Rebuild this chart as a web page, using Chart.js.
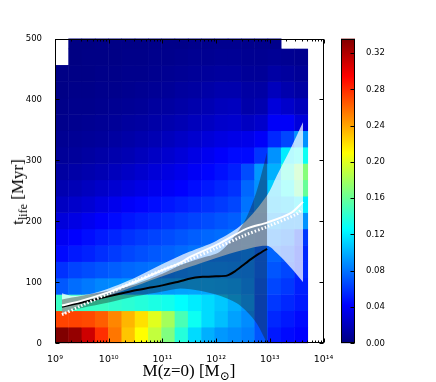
<!DOCTYPE html>
<html>
<head>
<meta charset="utf-8">
<script src="https://cdn.jsdelivr.net/npm/chart.js"></script>
<style>
  body { margin: 0; background: #fff; }
  #wrap { position: relative; width: 436px; height: 382px; }
  canvas { position: absolute; left: 0; top: 0; }
  .ttl { position: absolute; font-family: 'Liberation Serif', 'DejaVu Serif', serif; font-size: 17px; line-height: 20px; color: #000; white-space: nowrap; }
  .ttl sub { font-size: 12px; line-height: 0; vertical-align: -4px; }
  #xtitle { left: 189px; top: 361px; transform: translateX(-50%); }
  #ytitle { left: 18px; top: 192px; transform: translate(-50%, -50%) rotate(-90deg); }
</style>
</head>
<body>
<div id="wrap">
  <canvas id="main" width="436" height="382"></canvas>
  <canvas id="cbar" width="436" height="382"></canvas>
  <div class="ttl" id="xtitle">M(z=0) [M<sub>⊙</sub>]</div>
  <div class="ttl" id="ytitle">t<sub>life</sub> [Myr]</div>
</div>
<script>
// bin edges of the 2D histogram (log10 mass, Myr)
const massEdgesLog = [9.000, 9.248, 9.495, 9.743, 9.990, 10.238, 10.485, 10.733, 10.980, 11.228,
  11.475, 11.723, 11.970, 12.218, 12.465, 12.713, 12.960, 13.208, 13.455, 13.703];
const tlifeEdges = [0, 26.85, 53.7, 80.55, 107.4, 134.25, 161.1, 187.95, 214.8, 241.65,
  268.5, 295.35, 322.2, 349.05, 375.9, 402.75, 429.6, 456.45, 483.3, 510.15];

// fraction per cell, rows from t=0 upwards, 19 mass columns each
const tlifeHist = [
  [0.336,0.329,0.310,0.279,0.255,0.229,0.210,0.190,0.168,0.138,0.114,0.100,0.092,0.088,0.084,0.070,0.050,0.045,0.042],
  [0.272,0.272,0.270,0.263,0.250,0.234,0.220,0.200,0.180,0.150,0.130,0.114,0.105,0.095,0.088,0.070,0.055,0.050,0.045],
  [0.145,0.145,0.145,0.145,0.142,0.140,0.138,0.135,0.132,0.126,0.120,0.114,0.108,0.100,0.092,0.070,0.060,0.055,0.050],
  [0.071,0.078,0.082,0.086,0.088,0.090,0.092,0.093,0.094,0.096,0.097,0.097,0.096,0.094,0.088,0.072,0.065,0.060,0.052],
  [0.058,0.064,0.067,0.070,0.073,0.076,0.078,0.080,0.082,0.084,0.086,0.087,0.087,0.086,0.085,0.075,0.070,0.065,0.055],
  [0.045,0.050,0.053,0.057,0.061,0.065,0.068,0.071,0.074,0.077,0.080,0.082,0.083,0.083,0.085,0.075,0.075,0.070,0.055],
  [0.038,0.042,0.046,0.050,0.054,0.058,0.061,0.064,0.067,0.070,0.073,0.076,0.078,0.080,0.085,0.080,0.085,0.080,0.060],
  [0.030,0.033,0.037,0.041,0.045,0.049,0.052,0.055,0.058,0.061,0.064,0.067,0.070,0.073,0.085,0.085,0.095,0.090,0.090],
  [0.022,0.025,0.028,0.032,0.036,0.040,0.043,0.046,0.049,0.052,0.055,0.058,0.061,0.065,0.080,0.090,0.105,0.110,0.120],
  [0.016,0.018,0.021,0.024,0.027,0.030,0.033,0.036,0.039,0.042,0.046,0.050,0.054,0.058,0.076,0.090,0.110,0.130,0.160],
  [0.011,0.013,0.015,0.017,0.020,0.023,0.026,0.029,0.032,0.035,0.039,0.043,0.047,0.052,0.067,0.092,0.100,0.140,0.170],
  [0.008,0.009,0.011,0.013,0.015,0.017,0.020,0.023,0.026,0.029,0.033,0.037,0.041,0.045,0.045,0.059,0.090,0.120,0.130],
  [0.006,0.007,0.008,0.009,0.011,0.013,0.015,0.017,0.020,0.023,0.026,0.029,0.032,0.034,0.035,0.040,0.055,0.065,0.090],
  [0.004,0.005,0.006,0.007,0.008,0.010,0.011,0.013,0.015,0.017,0.020,0.022,0.025,0.026,0.022,0.025,0.040,0.040,0.030],
  [0.003,0.004,0.004,0.005,0.006,0.007,0.008,0.010,0.011,0.013,0.015,0.017,0.020,0.021,0.014,0.016,0.030,0.025,0.020],
  [0.002,0.003,0.003,0.004,0.004,0.005,0.006,0.007,0.008,0.010,0.011,0.013,0.015,0.015,0.012,0.012,0.020,0.015,0.012],
  [0.002,0.002,0.002,0.003,0.003,0.004,0.004,0.005,0.006,0.007,0.008,0.009,0.010,0.010,0.008,0.008,0.012,0.010,0.008],
  [null, 0.001,0.002,0.002,0.002,0.003,0.003,0.004,0.004,0.005,0.006,0.006,0.007,0.007,0.006,0.006,0.007,0.006,0.005],
  [null, 0.001,0.001,0.002,0.002,0.002,0.002,0.003,0.003,0.003,0.004,0.004,0.005,0.005,0.004,0.004,0.004,null, null]
];

// black median line and its (dark) spread
const medianLogM = [9.13, 9.5, 9.75, 10.0, 10.25, 10.5, 10.75, 11.0, 11.25, 11.5, 11.75, 12.0, 12.2, 12.35, 12.5, 12.65, 12.8, 12.95];
const medianT = [60, 67, 72, 77, 82, 87, 91, 95, 100, 106, 109, 110, 111, 118, 128, 138, 147, 155];
const darkBandLogM = [9.13, 9.5, 10.0, 10.5, 11.0, 11.33, 11.7, 12.07, 12.38, 12.57, 12.76, 12.95];
const darkBandLow = [50, 58, 67, 77, 85, 90, 86, 78, 66, 52, 32, 0];
const darkBandHigh = [72, 78, 86, 97, 114, 128, 139, 150, 180, 207, 251, 314];

// white line, dotted white line and white spread
const whiteLogM = [9.13, 9.5, 10.0, 10.5, 11.0, 11.33, 11.5, 12.07, 12.57, 12.95, 13.38, 13.62];
const whiteT = [62, 70, 84, 101, 120, 132, 141, 164, 188, 198, 213, 232];
const dottedLogM = [9.13, 9.5, 10.0, 10.5, 11.0, 11.5, 12.0, 12.5, 13.0, 13.5, 13.6];
const dottedT = [47, 62, 82, 102, 120, 137, 156, 176, 193, 212, 220];
const whiteBandLogM = [9.13, 9.3, 9.6, 10.0, 10.5, 11.0, 11.5, 12.0, 12.5, 12.95, 13.13, 13.38, 13.62];
const whiteBandLow = [46, 55, 66, 78, 94, 110, 125, 140, 153, 160, 148, 125, 100];
const whiteBandHigh = [82, 78, 80, 90, 108, 130, 150, 168, 196, 243, 275, 318, 363];

const xTickExps = [9, 10, 11, 12, 13, 14];
const yTicks = [0, 100, 200, 300, 400, 500];
const cbarTicks = [0, 0.04, 0.08, 0.12, 0.16, 0.20, 0.24, 0.28, 0.32];
const cbarMax = 0.336;

Chart.defaults.font.family = "'DejaVu Sans', sans-serif";
Chart.defaults.font.size = 8.5;
Chart.defaults.color = '#000';

function jet(f) {
  f = Math.min(1, Math.max(0, f));
  const c = v => Math.round(255 * Math.min(1, Math.max(0, v)));
  const r = Math.min(4 * f - 1.5, -4 * f + 4.5);
  const g = Math.min(4 * f - 0.5, -4 * f + 3.5);
  const b = Math.min(4 * f + 0.5, -4 * f + 2.5);
  return `rgb(${c(r)},${c(g)},${c(b)})`;
}

const pts = (logs, vals) => logs.map((l, i) => ({ x: Math.pow(10, l), y: vals[i] }));
const sup = n => String(n).split('').map(d => '⁰¹²³⁴⁵⁶⁷⁸⁹'[+d]).join('');

// heatmap cells drawn through the axes
const heatmap = {
  id: 'heatmap',
  beforeDatasetsDraw(chart) {
    const { ctx, chartArea: a, scales: { x, y } } = chart;
    ctx.save();
    ctx.beginPath();
    ctx.rect(a.left, a.top, a.right - a.left, a.bottom - a.top);
    ctx.clip();
    tlifeHist.forEach((row, j) => {
      row.forEach((v, i) => {
        if (v === null) return;
        const x0 = x.getPixelForValue(Math.pow(10, massEdgesLog[i]));
        const x1 = x.getPixelForValue(Math.pow(10, massEdgesLog[i + 1]));
        const y0 = y.getPixelForValue(tlifeEdges[j]);
        const y1 = y.getPixelForValue(tlifeEdges[j + 1]);
        ctx.fillStyle = jet(v / cbarMax);
        ctx.fillRect(x0, y1, x1 - x0 + 0.5, y0 - y1 + 0.5);
      });
    });
    ctx.restore();
  }
};

// frame and inward ticks on all four sides
const frame = {
  id: 'frame',
  afterDraw(chart) {
    const { ctx, chartArea: a, scales: { x, y } } = chart;
    ctx.save();
    ctx.strokeStyle = '#000';
    ctx.lineWidth = 1;
    const L = Math.round(a.left) + 0.5, R = Math.round(a.right) - 0.5;
    const T = Math.round(a.top) + 0.5, B = Math.round(a.bottom) - 0.5;
    ctx.strokeRect(L, T, R - L, B - T);
    ctx.beginPath();
    xTickExps.forEach(e => {
      for (let k = 1; k <= 9; k++) {
        const v = k * Math.pow(10, e);
        if (v > 1e14) break;
        const px = Math.round(x.getPixelForValue(v)) + 0.5;
        const len = k === 1 ? 4 : 2;
        ctx.moveTo(px, B); ctx.lineTo(px, B - len);
        ctx.moveTo(px, T); ctx.lineTo(px, T + len);
      }
    });
    yTicks.forEach(v => {
      const py = Math.round(y.getPixelForValue(v)) + 0.5;
      ctx.moveTo(L, py); ctx.lineTo(L + 4, py);
      ctx.moveTo(R, py); ctx.lineTo(R - 4, py);
    });
    ctx.stroke();
    ctx.restore();
  }
};

const line = (data, color, width, order, extra) => Object.assign({
  data, borderColor: color, borderWidth: width, pointRadius: 0, tension: 0.3, fill: false, order
}, extra || {});

new Chart(document.getElementById('main'), {
  type: 'line',
  data: {
    datasets: [
      line(pts(whiteBandLogM, whiteBandLow), 'rgba(0,0,0,0)', 0, 6),
      line(pts(whiteBandLogM, whiteBandHigh), 'rgba(0,0,0,0)', 0, 5, { fill: '-1', backgroundColor: 'rgba(255,255,255,0.72)' }),
      line(pts(darkBandLogM, darkBandLow), 'rgba(0,0,0,0)', 0, 4),
      line(pts(darkBandLogM, darkBandHigh), 'rgba(0,0,0,0)', 0, 3, { fill: '-1', backgroundColor: 'rgba(25,25,25,0.38)' }),
      line(pts(medianLogM, medianT), '#000', 2, 2, { tension: 0.2 }),
      line(pts(dottedLogM, dottedT), '#fff', 3, 1, { borderDash: [1.5, 2] }),
      line(pts(whiteLogM, whiteT), '#fff', 2, 0)
    ]
  },
  options: {
    responsive: false,
    animation: false,
    layout: { padding: { left: 0, right: 112.5, top: 38.5, bottom: 0 } },
    plugins: { legend: { display: false }, tooltip: { enabled: false } },
    scales: {
      x: {
        type: 'logarithmic', min: 1e9, max: 1e14,
        grid: { display: false }, border: { display: false },
        afterBuildTicks: s => { s.ticks = xTickExps.map(e => ({ value: Math.pow(10, e) })); },
        afterFit: s => { s.height = 38.7; },
        ticks: {
          autoSkip: false, maxRotation: 0, padding: 3, font: { size: 9.5 },
          callback: v => '10' + sup(Math.round(Math.log10(v)))
        }
      },
      y: {
        min: 0, max: 500,
        grid: { display: false }, border: { display: false },
        afterBuildTicks: s => { s.ticks = yTicks.map(v => ({ value: v })); },
        afterFit: s => { s.width = 55; },
        ticks: { padding: 5 }
      }
    }
  },
  plugins: [heatmap, frame]
});

// colorbar
const cbarFrame = {
  id: 'cbarFrame',
  afterDraw(chart) {
    const { ctx, chartArea: a, scales: { y } } = chart;
    ctx.save();
    ctx.strokeStyle = '#000';
    ctx.lineWidth = 1;
    const L = Math.round(a.left) + 0.5, R = Math.round(a.right) - 0.5;
    const T = Math.round(a.top) + 0.5, B = Math.round(a.bottom) - 0.5;
    ctx.strokeRect(L, T, R - L, B - T);
    ctx.beginPath();
    cbarTicks.forEach(v => {
      const py = Math.round(y.getPixelForValue(v)) + 0.5;
      ctx.moveTo(R, py); ctx.lineTo(R - 4, py);
    });
    ctx.stroke();
    ctx.restore();
  }
};

new Chart(document.getElementById('cbar'), {
  type: 'bar',
  data: {
    labels: [''],
    datasets: [{
      data: [[0, cbarMax]],
      barPercentage: 1, categoryPercentage: 1, borderWidth: 0,
      backgroundColor: c => {
        const ch = c.chart;
        if (!ch.chartArea) return 'blue';
        const ys = ch.scales.y;
        const g = ch.ctx.createLinearGradient(0, ys.getPixelForValue(0), 0, ys.getPixelForValue(cbarMax));
        for (let i = 0; i <= 64; i++) g.addColorStop(i / 64, jet(i / 64));
        return g;
      }
    }]
  },
  options: {
    responsive: false,
    animation: false,
    layout: { padding: { left: 341, right: 0, top: 38.5, bottom: 38.7 } },
    plugins: { legend: { display: false }, tooltip: { enabled: false } },
    scales: {
      x: { display: false },
      y: {
        position: 'right', min: 0, max: cbarMax,
        grid: { display: false }, border: { display: false },
        afterBuildTicks: s => { s.ticks = cbarTicks.map(v => ({ value: v })); },
        afterFit: s => { s.width = 81; },
        ticks: { padding: 3, callback: v => v.toFixed(2) }
      }
    }
  },
  plugins: [cbarFrame]
});
</script>
</body>
</html>
